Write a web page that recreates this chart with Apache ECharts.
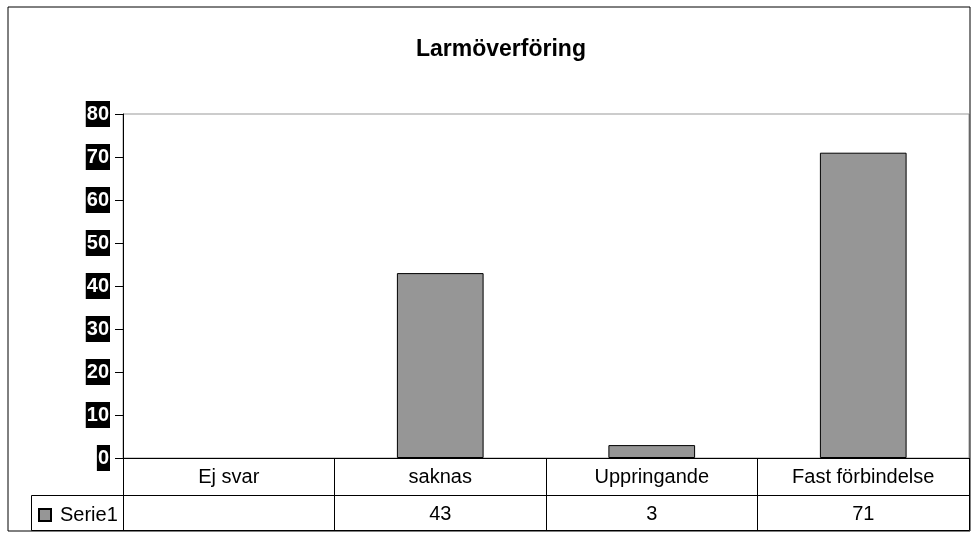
<!DOCTYPE html>
<html>
<head>
<meta charset="utf-8">
<script src="https://cdn.jsdelivr.net/npm/echarts@6/dist/echarts.min.js"></script>
<style>
  html, body { margin: 0; padding: 0; background: #fff; }
  #chart { width: 978px; height: 547px; }
</style>
</head>
<body>
<div id="chart"></div>
<script>
const categories = ['Ej svar', 'saknas', 'Uppringande', 'Fast förbindelse'];
const serie1 = [null, 43, 3, 71];
const seriesName = 'Serie1';
const yTicks = [0, 80, 10]; // min, max, interval

const font = "'Liberation Sans', Arial, sans-serif";
const chart = echarts.init(document.getElementById('chart'));

chart.setOption({
    animation: false,
    backgroundColor: '#fff',
    textStyle: { fontFamily: font },
    title: {
        text: 'Larmöverföring',
        left: 411,
        top: 33,
        textStyle: { fontSize: 23, fontWeight: 'bold', color: '#000', fontFamily: font }
    },
    legend: {
        data: [seriesName],
        left: 38,
        top: 505,
        padding: 0,
        icon: 'rect',
        itemWidth: 12,
        itemHeight: 12,
        itemGap: 4,
        textStyle: { fontSize: 20, color: '#000', fontFamily: font, padding: [0, 0, 0, 4] }
    },
    grid: {
        left: 123,
        right: 9,
        top: 114,
        bottom: 89,
        show: true,
        borderColor: '#999',
        borderWidth: 1
    },
    xAxis: [
        {
            type: 'category',
            data: categories,
            position: 'bottom',
            axisLine: { lineStyle: { color: '#000', width: 1 } },
            axisTick: { show: true, length: 72, alignWithLabel: false, lineStyle: { color: '#000' } },
            axisLabel: { fontSize: 20, color: '#000', margin: 9, fontFamily: font, interval: 0 }
        },
        {
            type: 'category',
            data: categories,
            position: 'bottom',
            offset: 37,
            axisLine: { lineStyle: { color: '#000', width: 1 } },
            axisTick: { show: false },
            axisLabel: {
                fontSize: 20, color: '#000', margin: 9, fontFamily: font, interval: 0,
                formatter: (v, i) => serie1[i] == null ? '' : String(serie1[i])
            }
        },
        {
            type: 'category',
            data: categories,
            position: 'bottom',
            offset: 72,
            axisLine: { lineStyle: { color: '#000', width: 1 } },
            axisTick: { show: false },
            axisLabel: { show: false }
        }
    ],
    yAxis: {
        type: 'value',
        min: yTicks[0],
        max: yTicks[1],
        interval: yTicks[2],
        axisLine: { show: true, lineStyle: { color: '#000' } },
        axisTick: { show: true, length: 8, lineStyle: { color: '#000' } },
        splitLine: { show: false },
        axisLabel: {
            fontSize: 20,
            fontWeight: 'bold',
            color: '#fff',
            backgroundColor: '#000',
            lineHeight: 20,
            padding: [3, 1, 3, 1],
            margin: 13,
            fontFamily: font
        }
    },
    series: [
        {
            name: seriesName,
            type: 'bar',
            xAxisIndex: 0,
            data: serie1,
            barWidth: '41%',
            itemStyle: { color: '#969696', borderColor: '#000', borderWidth: 1 }
        }
    ],
    graphic: [
        {
            type: 'rect',
            shape: { x: 8, y: 7, width: 962, height: 524 },
            style: { fill: 'none', stroke: '#000', lineWidth: 1 },
            silent: true
        },
        {
            type: 'polyline',
            shape: { points: [[123, 495.5], [31.5, 495.5], [31.5, 530.5], [123, 530.5]] },
            style: { fill: 'none', stroke: '#000', lineWidth: 1 },
            silent: true
        }
    ]
});
</script>
</body>
</html>
